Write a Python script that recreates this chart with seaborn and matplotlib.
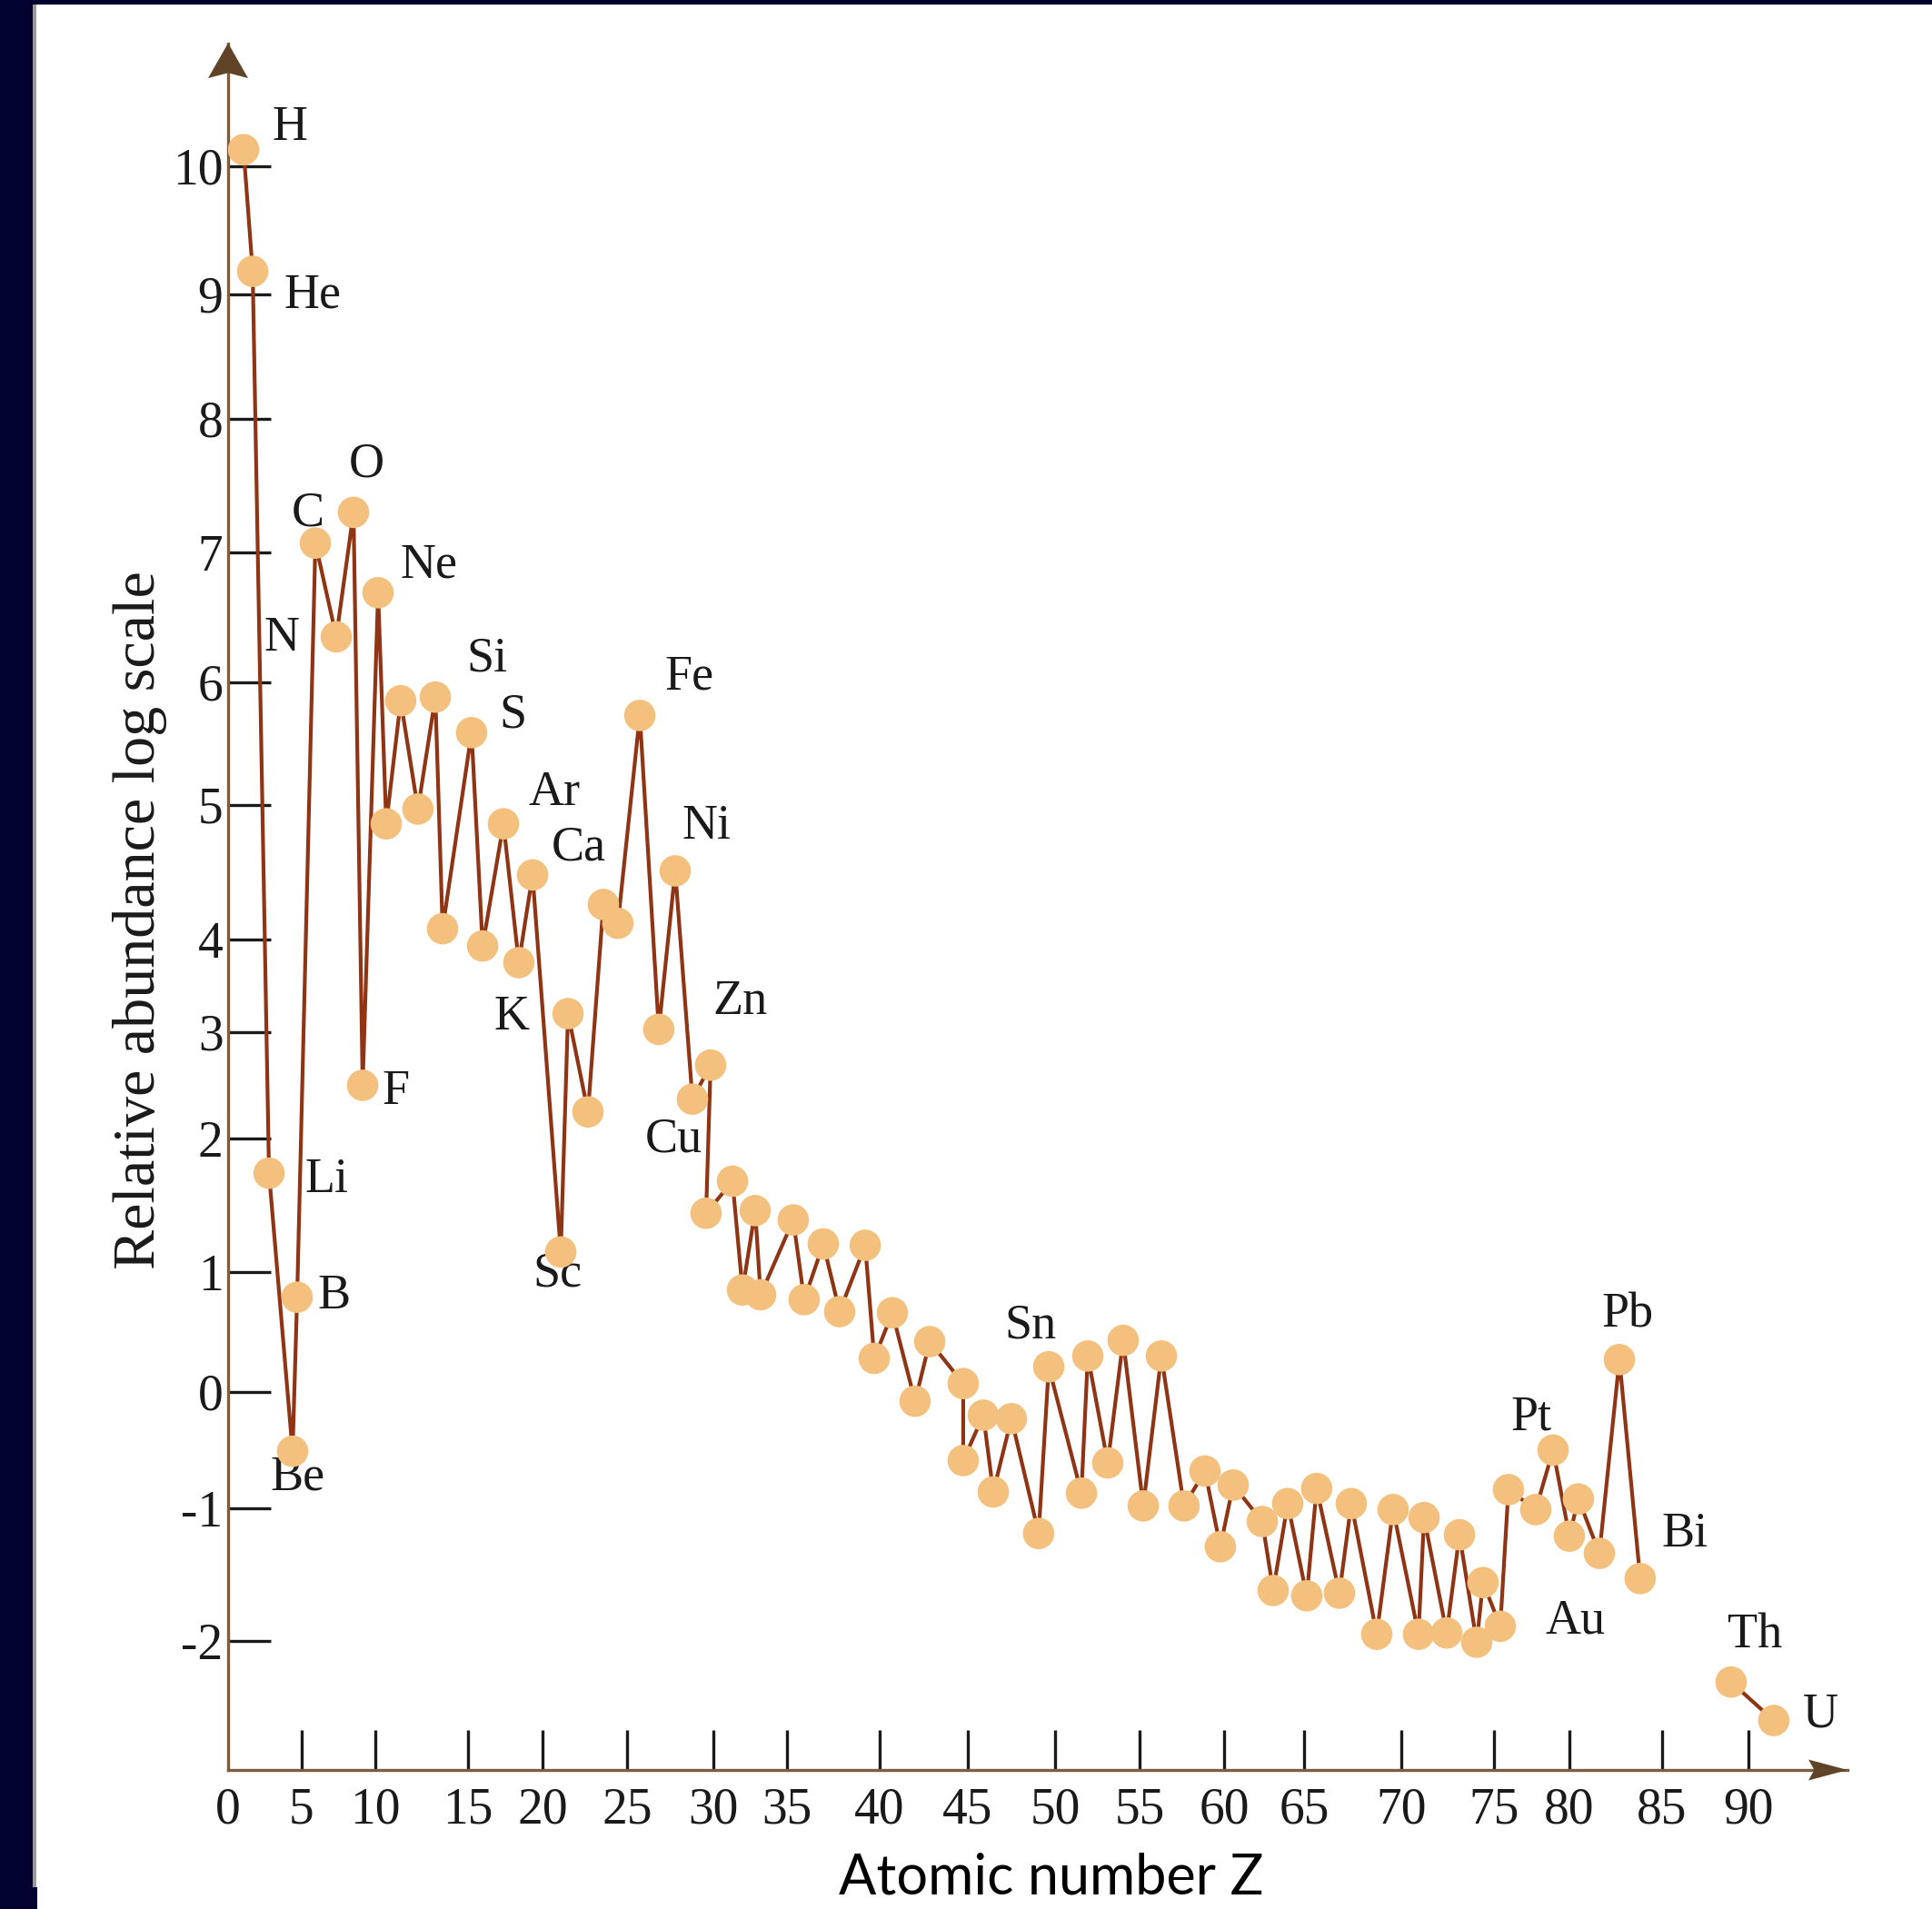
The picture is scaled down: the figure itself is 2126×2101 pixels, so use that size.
import numpy as np
import pandas as pd
import matplotlib
matplotlib.use("Agg")
import matplotlib.pyplot as plt
from matplotlib.patches import Polygon, Rectangle
import seaborn as sns

# ---------------------------------------------------------------------------
# Axis definition: tick values and the relative length of each tick interval
# (the printed axes are not uniformly spaced)
X_TICKS = [0, 5, 10, 15, 20, 25, 30, 35, 40, 45, 50, 55, 60, 65, 70, 75, 80, 85, 90]
X_GAPS = [81, 81, 102, 82, 93, 95, 81, 102, 97, 96, 93, 93, 88, 107, 102, 83, 102, 95]
Y_TICKS = [-2, -1, 0, 1, 2, 3, 4, 5, 6, 7, 8, 9, 10]
Y_GAPS = [146, 128, 132, 147, 117, 102, 148, 135, 143, 147, 137, 141]
X_MAX = 95.74
Y_MIN, Y_MAX = -2.973, 10.961

# Abundance curve: position along the atomic-number axis and log10 abundance
Z_POS = [1.05, 1.67, 2.78, 4.38, 4.69, 5.93, 7.35, 8.52, 9.14, 10.15,
         10.59, 11.37, 12.30, 13.24, 13.63, 15.24, 15.98, 17.38, 18.41, 19.33,
         21.08, 21.51, 22.69, 23.60, 24.46, 25.74, 26.84, 27.79, 28.79, 29.84,
         29.58, 31.30, 31.98, 32.84, 33.21, 35.34, 35.93, 36.96, 37.84, 39.22,
         39.71, 40.72, 42.01, 42.84, 44.74, 44.74, 45.89, 46.46, 47.50, 49.06,
         49.64, 51.56, 51.94, 53.12, 54.03, 55.22, 56.29, 57.63, 58.87, 59.78,
         60.57, 62.39, 63.07, 63.98, 65.14, 65.65, 66.82, 67.43, 68.74, 69.58,
         70.93, 71.23, 72.45, 73.14, 74.07, 74.41, 75.42, 75.96, 77.77, 78.92,
         80.00, 80.49, 81.62, 82.70, 83.82,
         89.00, 91.47]
LOG_ABUND = [10.13, 9.18, 1.74, -0.51, 0.79, 7.07, 6.35, 7.30, 2.50, 6.69,
             4.86, 5.85, 4.97, 5.88, 4.08, 5.59, 3.93, 4.86, 3.75, 4.48,
             1.15, 3.20, 2.25, 4.26, 4.12, 5.73, 3.03, 4.51, 2.37, 2.69,
             1.44, 1.68, 0.85, 1.46, 0.81, 1.39, 0.77, 1.21, 0.67, 1.20,
             0.28, 0.66, -0.08, 0.42, 0.07, -0.59, -0.20, -0.86, -0.23, -1.19,
             0.21, -0.87, 0.30, -0.61, 0.43, -0.98, 0.30, -0.98, -0.68, -1.29,
             -0.80, -1.10, -1.62, -0.96, -1.66, -0.83, -1.64, -0.96, -1.95, -1.01,
             -1.95, -1.07, -1.94, -1.20, -2.01, -1.56, -1.89, -0.84, -1.01, -0.50,
             -1.21, -0.92, -1.34, 0.27, -1.53,
             -2.31, -2.60]
# the curve breaks between Bi and Th
SEGMENT = [0] * 85 + [1] * 2

# Element annotations
LABELS = ["H", "He", "N", "C", "O", "Ne", "F", "Li", "B", "Be", "Si", "S", "Ar",
          "Ca", "K", "Sc", "Fe", "Ni", "Zn", "Cu", "Sn", "Pt", "Pb", "Bi", "Au",
          "Th", "U"]
LABEL_X = [4.20, 5.74, 3.64, 5.43, 9.38, 12.89, 11.08, 6.67, 7.22, 4.75, 16.28,
           17.99, 20.70, 22.15, 17.93, 20.86, 28.63, 29.63, 31.85, 27.68, 48.59,
           77.47, 83.14, 86.32, 80.34, 90.37, 94.21]
LABEL_Y = [10.30, 8.99, 6.34, 7.29, 7.66, 6.90, 2.44, 1.69, 0.80, -0.74, 6.18,
           5.73, 5.10, 4.68, 3.16, 0.98, 6.04, 4.84, 3.33, 1.99, 0.55,
           -0.22, 0.64, -1.20, -1.85, -1.96, -2.56]

# ---------------------------------------------------------------------------
NAVY = "#03032f"
AXIS_BROWN = "#7b5e3f"
ARROW_BROWN = "#5f4427"
LINE_COLOR = "#8f3515"
MARKER_COLOR = "#f3c07e"
INK = "#1a1a1a"


def piecewise_scale(ticks, gaps):
    knots = np.asarray(ticks, float)
    cum = np.concatenate([[0.0], np.cumsum(gaps, dtype=float)])
    lo = (cum[1] - cum[0]) / (knots[1] - knots[0])
    hi = (cum[-1] - cum[-2]) / (knots[-1] - knots[-2])

    def forward(v):
        v = np.asarray(v, float)
        out = np.interp(v, knots, cum)
        out = np.where(v < knots[0], cum[0] + (v - knots[0]) * lo, out)
        out = np.where(v > knots[-1], cum[-1] + (v - knots[-1]) * hi, out)
        return out

    def inverse(d):
        d = np.asarray(d, float)
        out = np.interp(d, cum, knots)
        out = np.where(d < cum[0], knots[0] + (d - cum[0]) / lo, out)
        out = np.where(d > cum[-1], knots[-1] + (d - cum[-1]) / hi, out)
        return out

    return forward, inverse


sns.set_style("white")
plt.rcParams["font.family"] = ["Liberation Serif", "DejaVu Serif"]

W, H = 2126, 2101
fig = plt.figure(figsize=(W / 100, H / 100), dpi=100, facecolor="white")

# dark frame along the left and top edges
fig.patches.append(Rectangle((0, 0), 36 / W, 1, transform=fig.transFigure,
                             facecolor=NAVY, edgecolor="none", zorder=0))
fig.patches.append(Rectangle((0, 1 - 5 / H), 1, 5 / H, transform=fig.transFigure,
                             facecolor=NAVY, edgecolor="none", zorder=0))
fig.patches.append(Rectangle((0, 0), 41 / W, 24 / H, transform=fig.transFigure,
                             facecolor=NAVY, edgecolor="none", zorder=0))
fig.patches.append(Rectangle((36 / W, 24 / H), 4 / W, 1 - 29 / H,
                             transform=fig.transFigure, facecolor="#9a9a9a",
                             edgecolor="none", zorder=0))

ax = fig.add_axes([251 / W, (H - 1948) / H, (2033 - 251) / W, (1948 - 47.5) / H])
ax.set_facecolor("none")

fx, ix = piecewise_scale(X_TICKS, X_GAPS)
fy, iy = piecewise_scale(Y_TICKS, Y_GAPS)
ax.set_xscale("function", functions=(fx, ix))
ax.set_yscale("function", functions=(fy, iy))

df = pd.DataFrame({"z": Z_POS, "log_abundance": LOG_ABUND, "segment": SEGMENT})

sns.lineplot(data=df, x="z", y="log_abundance", units="segment", estimator=None,
             sort=False, color=LINE_COLOR, linewidth=3.0, ax=ax, zorder=2)
sns.scatterplot(data=df, x="z", y="log_abundance", s=620, color=MARKER_COLOR,
                edgecolor="none", linewidth=0, ax=ax, zorder=3)

for name, lx, ly in zip(LABELS, LABEL_X, LABEL_Y):
    ax.text(lx, ly, name, ha="center", va="center", fontsize=39, color=INK,
            zorder=1)

ax.set_xlim(0, X_MAX)
ax.set_ylim(Y_MIN, Y_MAX)

ax.set_xticks(X_TICKS)
ax.set_xticklabels([str(v) for v in X_TICKS])
ax.set_yticks(Y_TICKS)
ax.set_yticklabels([str(v) for v in Y_TICKS])
ax.tick_params(axis="y", left=True, direction="in", length=34, width=2.4,
               color=INK, pad=4, labelsize=40, labelcolor=INK)
ax.tick_params(axis="x", bottom=True, direction="in", length=32, width=2.4,
               color=INK, pad=13, labelsize=40, labelcolor=INK)
ax.xaxis.get_major_ticks()[0].tick1line.set_visible(False)

for side in ("top", "right"):
    ax.spines[side].set_visible(False)
for side in ("left", "bottom"):
    ax.spines[side].set_color(AXIS_BROWN)
    ax.spines[side].set_linewidth(2.4)
    ax.spines[side].set_zorder(1.5)

# arrowheads at the ends of both axes
hw_y, len_y = 22 / 1782, 38.5 / 1900.5
ax.add_patch(Polygon([(0, 1), (-hw_y, 1 - len_y), (0, 1 - len_y * 0.85),
                      (hw_y, 1 - len_y)], closed=True, transform=ax.transAxes,
                     facecolor=ARROW_BROWN, edgecolor="none", clip_on=False,
                     zorder=4))
hw_x, len_x = 11.5 / 1900.5, 43 / 1782
ax.add_patch(Polygon([(1, 0), (1 - len_x, hw_x), (1 - len_x * 0.85, 0),
                      (1 - len_x, -hw_x)], closed=True, transform=ax.transAxes,
                     facecolor=ARROW_BROWN, edgecolor="none", clip_on=False,
                     zorder=4))

ax.set_ylabel("Relative abundance log scale", fontsize=47.5, color=INK)
ax.yaxis.label.set_va("center")
ax.yaxis.set_label_coords(-0.0545, 0.492)

ax.set_xlabel("Atomic number Z", fontsize=44, color="black",
              family=["Lato", "DejaVu Sans"])
ax.xaxis.label.set_va("center")
ax.xaxis.set_label_coords(0.5084, -0.0626)

fig.savefig("out.png", dpi=100, facecolor="white")
